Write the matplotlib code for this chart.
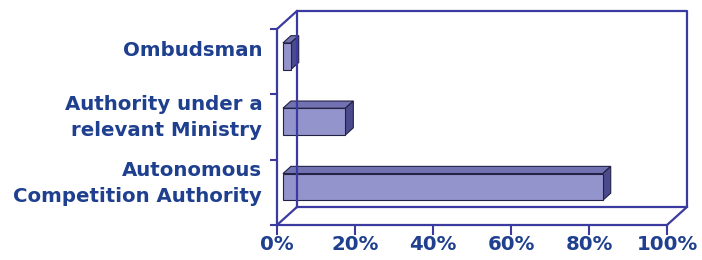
import matplotlib.pyplot as plt
from matplotlib.patches import Polygon

# data
categories = ['Autonomous\nCompetition Authority',
              'Authority under a\nrelevant Ministry',
              'Ombudsman']
values = [82, 16, 2]
xticks = [0, 20, 40, 60, 80, 100]
xticklabels = ['0%', '20%', '40%', '60%', '80%', '100%']

text_col = '#1f3f8f'
line_col = '#3a3aa0'
front_col = '#9494cc'
top_col = '#7272b2'
side_col = '#4a4a8c'

fig = plt.figure(figsize=(7.02, 2.6), dpi=100)
W, H = 702, 260
ax = fig.add_axes([277 / W, 1 - 225 / H, 390 / W, 196 / H])
ax.set_xlim(0, 100)
ax.set_ylim(0, 3)

# depth of the 3d box in data units
ddx, ddy = 5.1, 0.275

# back wall and floor edges
lw = 1.6
ax.plot([ddx, ddx, 100 + ddx, 100 + ddx, ddx],
        [ddy, 3 + ddy, 3 + ddy, ddy, ddy], color=line_col, lw=lw, clip_on=False)
for x0, y0 in [(0, 0), (0, 3), (100, 0)]:
    ax.plot([x0, x0 + ddx], [y0, y0 + ddy], color=line_col, lw=lw, clip_on=False)

# bars as 3d boxes
bh = 0.41
f0, f1 = 0.3, 0.7
for i, v in enumerate(values):
    yc = i + 0.5
    ox, oy = ddx * f0, ddy * f0
    bx, by = ddx * (f1 - f0), ddy * (f1 - f0)
    x0, x1 = ox, ox + v
    y0, y1 = yc - bh / 2 + oy, yc + bh / 2 + oy
    top = Polygon([(x0, y1), (x1, y1), (x1 + bx, y1 + by), (x0 + bx, y1 + by)],
                  closed=True, fc=top_col, ec='#222244', lw=0.8, clip_on=False)
    side = Polygon([(x1, y0), (x1 + bx, y0 + by), (x1 + bx, y1 + by), (x1, y1)],
                   closed=True, fc=side_col, ec='#222244', lw=0.8, clip_on=False)
    front = Polygon([(x0, y0), (x1, y0), (x1, y1), (x0, y1)],
                    closed=True, fc=front_col, ec='#222244', lw=0.8, clip_on=False)
    for p in (top, side, front):
        ax.add_patch(p)
    lift = 0.17 if '\n' not in categories[i] else 0.14
    ax.text(-3.8, yc + lift, categories[i], ha='right', va='center',
            color=text_col, fontsize=14.2, fontweight='bold',
            family='DejaVu Sans', linespacing=1.45)

for s in ['top', 'right']:
    ax.spines[s].set_visible(False)
for s in ['left', 'bottom']:
    ax.spines[s].set_color(line_col)
    ax.spines[s].set_linewidth(lw)

ax.set_xticks(xticks)
ax.set_xticklabels(xticklabels, color=text_col, fontsize=14.2, fontweight='bold',
                   family='DejaVu Sans')
ax.set_yticks([0, 1, 2, 3])
ax.set_yticklabels([])
ax.tick_params(axis='x', direction='out', length=7, width=1.5, color=line_col, pad=0.5)
ax.tick_params(axis='y', direction='out', length=5, width=1.5, color=line_col)
ax.patch.set_alpha(0)

plt.savefig('out.png', dpi=100)
